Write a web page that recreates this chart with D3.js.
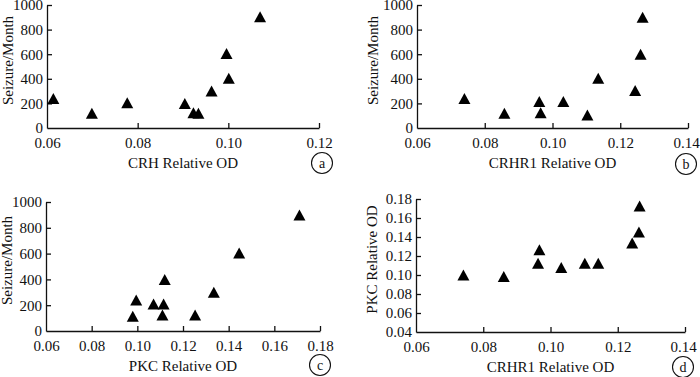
<!DOCTYPE html>
<html><head><meta charset="utf-8">
<script src="https://cdn.jsdelivr.net/npm/d3@7"></script>
<style>body{margin:0;background:#fff;}svg{display:block;} text{font-family:'Liberation Serif','Times New Roman',serif;}</style>
</head><body>
<svg id="c" width="700" height="377"></svg>
<script>
// ---- data ----
const crhOD      = [0.0614, 0.0699, 0.0777, 0.0904, 0.0923, 0.0934, 0.0963, 0.0996, 0.1001, 0.1070];
const seizureA   = [240, 120, 205, 200, 125, 120, 300, 605, 405, 905];
const crhr1OD_B  = [0.0740, 0.0858, 0.0961, 0.0965, 0.1032, 0.1103, 0.1135, 0.1244, 0.1260, 0.1266];
const seizureB   = [240, 120, 215, 125, 215, 105, 405, 305, 600, 900];
const pkcOD_C    = [0.0980, 0.0995, 0.1071, 0.1115, 0.1110, 0.1120, 0.1253, 0.1335, 0.1446, 0.1710];
const seizureC   = [115, 240, 210, 210, 125, 400, 125, 300, 605, 900];
const crhr1OD_D  = [0.0741, 0.0861, 0.0963, 0.0967, 0.1032, 0.1102, 0.1142, 0.1243, 0.1263, 0.1265];
const pkcOD_D    = [0.1000, 0.0985, 0.1123, 0.1265, 0.1080, 0.1123, 0.1123, 0.1336, 0.1453, 0.1726];
const seizureTicks = [0, 200, 400, 600, 800, 1000];
const odTicks12  = [0.06, 0.08, 0.10, 0.12];
const odTicks14  = [0.06, 0.08, 0.10, 0.12, 0.14];
const odTicks18  = [0.06, 0.08, 0.10, 0.12, 0.14, 0.16, 0.18];
const pkcTicks   = [0.04, 0.06, 0.08, 0.10, 0.12, 0.14, 0.16, 0.18];
const panelLabels = ["a", "b", "c", "d"];
const xTitles = ["CRH Relative OD", "CRHR1 Relative OD", "PKC Relative OD", "CRHR1 Relative OD"];
const yTitles = ["Seizure/Month", "Seizure/Month", "Seizure/Month", "PKC Relative OD"];

// ---- layout ----
const panels = [
  {xs: crhOD,     ys: seizureA, xt: odTicks12, yt: seizureTicks, yfmt: d3.format("d"),   box: [47, 319, 128, 5],   ytOff: 39.5, circ: [322, 163]},
  {xs: crhr1OD_B, ys: seizureB, xt: odTicks14, yt: seizureTicks, yfmt: d3.format("d"),   box: [417, 688, 128, 5],  ytOff: 44, circ: [686, 164]},
  {xs: pkcOD_C,   ys: seizureC, xt: odTicks18, yt: seizureTicks, yfmt: d3.format("d"),   box: [46, 320, 331, 202], ytOff: 39.5, circ: [320, 365]},
  {xs: crhr1OD_D, ys: pkcOD_D,  xt: odTicks14, yt: pkcTicks,     yfmt: d3.format(".2f"), box: [416, 685, 332, 199], ytOff: 44, circ: [683, 367]}
];

const svg = d3.select("#c");
const FONT = "'Liberation Serif','Times New Roman',serif";
const INK = "#111";

panels.forEach((p, i) => {
  const [x0, x1, yb, yt] = p.box;
  const xs = d3.scaleLinear().domain([p.xt[0], p.xt[p.xt.length - 1]]).range([x0, x1]);
  const ys = d3.scaleLinear().domain([p.yt[0], p.yt[p.yt.length - 1]]).range([yb, yt]);
  const g = svg.append("g");

  const xAxis = d3.axisBottom(xs).tickValues(p.xt).tickFormat(d3.format(".2f")).tickSizeInner(-5).tickSizeOuter(0).tickPadding(9);
  const yAxis = d3.axisLeft(ys).tickValues(p.yt).tickFormat(p.yfmt).tickSizeInner(-5).tickSizeOuter(0).tickPadding(4);

  const gx = g.append("g").attr("transform", `translate(0,${yb})`).call(xAxis);
  const gy = g.append("g").attr("transform", `translate(${x0},0)`).call(yAxis);
  [gx, gy].forEach(ax => {
    ax.attr("font-family", FONT).attr("font-size", 15);
    ax.select(".domain").attr("stroke", INK).attr("stroke-width", 1.3);
    ax.selectAll(".tick line").attr("stroke", INK).attr("stroke-width", 1.3);
    ax.selectAll(".tick text").attr("fill", INK).attr("font-family", FONT).attr("font-size", 15)
      .style("font-family", FONT).style("font-size", "15px");
  });
  // keep the right-most label inside the picture
  gx.selectAll(".tick text").filter((d, k, n) => k === n.length - 1 && x1 > 680).attr("dx", "-2");
  // no tick mark at the origin
  gx.selectAll(".tick").filter((d, k) => k === 0).select("line").remove();
  gy.selectAll(".tick").filter((d, k) => k === 0).select("line").remove();

  // x title
  g.append("text").attr("x", (x0 + x1) / 2).attr("y", yb + 40)
    .attr("text-anchor", "middle").attr("fill", INK)
    .style("font-family", FONT).style("font-size", "15px").text(xTitles[i]);
  // y title
  g.append("text")
    .attr("transform", `translate(${x0 - p.ytOff},${(yb + yt) / 2 - 6}) rotate(-90)`)
    .attr("text-anchor", "middle").attr("dominant-baseline", "central").attr("fill", INK)
    .style("font-family", FONT).style("font-size", "15px").text(yTitles[i]);

  // triangles
  const tri = (cx, cy) => `M${cx - 6},${cy + 5.5}L${cx + 6},${cy + 5.5}L${cx},${cy - 5.5}Z`;
  g.selectAll("path.pt").data(d3.range(p.xs.length)).enter().append("path")
    .attr("class", "pt").attr("fill", "#000")
    .attr("d", k => tri(xs(p.xs[k]), ys(p.ys[k])));

  // circled panel label
  g.append("circle").attr("cx", p.circ[0]).attr("cy", p.circ[1]).attr("r", 10.5)
    .attr("fill", "none").attr("stroke", INK).attr("stroke-width", 1.1);
  g.append("text").attr("x", p.circ[0]).attr("y", p.circ[1]).attr("text-anchor", "middle")
    .attr("dominant-baseline", "central").attr("fill", INK)
    .style("font-family", FONT).style("font-size", "14px").text(panelLabels[i]);
});
</script>
</body></html>
